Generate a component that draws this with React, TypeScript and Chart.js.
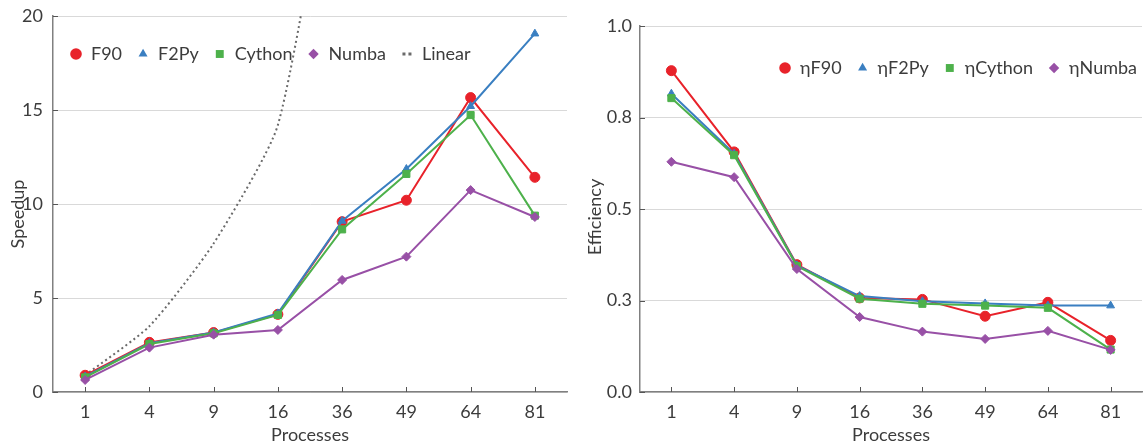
import React, { useEffect, useRef } from 'react';
import { Chart, registerables } from 'chart.js';

Chart.register(...registerables);

const FONT = 'Lato, "Open Sans", sans-serif';
const FS = 18;
const TEXT = '#3c3c3c';
const AXIS = '#808080';
const GRID = '#d9d9d9';
const RED = '#e8222a';
const BLUE = '#3a7fc1';
const GREEN = '#4db14b';
const PURPLE = '#9850a6';
const GRAY = '#6a6a6a';

// ---- data ----
const processes = ['1', '4', '9', '16', '36', '49', '64', '81'];

const speedupF90 = [0.89, 2.64, 3.16, 4.13, 9.06, 10.2, 15.66, 11.42];
const speedupF2Py = [0.82, 2.6, 3.17, 4.18, 9.1, 11.86, 15.2, 19.06];
const speedupCython = [0.78, 2.55, 3.12, 4.1, 8.65, 11.6, 14.73, 9.38];
const speedupNumba = [0.64, 2.36, 3.05, 3.3, 5.96, 7.2, 10.74, 9.31];
const speedupLinear = [0.89, 3.5, 7.9, 14.2, 32.0, 43.6, 57.0, 72.1];

const effF90 = [0.878, 0.656, 0.348, 0.257, 0.253, 0.207, 0.245, 0.141];
const effF2Py = [0.815, 0.651, 0.346, 0.262, 0.248, 0.242, 0.236, 0.236];
const effCython = [0.803, 0.647, 0.344, 0.255, 0.241, 0.236, 0.23, 0.116];
const effNumba = [0.629, 0.587, 0.336, 0.205, 0.165, 0.145, 0.167, 0.115];

const speedupTicks = [0, 5, 10, 15, 20];
const efficiencyTicks = [0, 0.25, 0.5, 0.75, 1.0];

const speedupLegend = [
  { label: 'F90', color: RED, style: 'circle', r: 5.8 },
  { label: 'F2Py', color: BLUE, style: 'triangle', r: 5.2 },
  { label: 'Cython', color: GREEN, style: 'rect', r: 5.6 },
  { label: 'Numba', color: PURPLE, style: 'rectRot', r: 5.2 },
  { label: 'Linear', color: GRAY, style: 'dots', r: 3 },
];
const efficiencyLegend = [
  { label: 'ηF90', color: RED, style: 'circle', r: 5.8 },
  { label: 'ηF2Py', color: BLUE, style: 'triangle', r: 5.2 },
  { label: 'ηCython', color: GREEN, style: 'rect', r: 5.6 },
  { label: 'ηNumba', color: PURPLE, style: 'rectRot', r: 5.2 },
];

Chart.defaults.font.family = FONT;
Chart.defaults.font.size = FS;
Chart.defaults.color = TEXT;

function drawMarker(ctx: CanvasRenderingContext2D, style: string, x: number, y: number, r: number, color: string) {
  ctx.fillStyle = color;
  ctx.beginPath();
  if (style === 'circle') {
    ctx.arc(x, y, r, 0, Math.PI * 2);
  } else if (style === 'triangle') {
    ctx.moveTo(x, y - r);
    ctx.lineTo(x + r * 0.866, y + r * 0.5);
    ctx.lineTo(x - r * 0.866, y + r * 0.5);
    ctx.closePath();
  } else if (style === 'rect') {
    const s = r * Math.SQRT1_2;
    ctx.rect(x - s, y - s, 2 * s, 2 * s);
  } else if (style === 'rectRot') {
    ctx.moveTo(x, y - r);
    ctx.lineTo(x + r, y);
    ctx.lineTo(x, y + r);
    ctx.lineTo(x - r, y);
    ctx.closePath();
  } else if (style === 'dots') {
    ctx.rect(x - 4.5, y - 1.5, 3, 3);
    ctx.rect(x + 1.5, y - 1.5, 3, 3);
  }
  ctx.fill();
}

const decorPlugin = {
  id: 'decor',
  afterDraw(chart: any, _args: any, opts: any) {
    const { ctx, chartArea } = chart;
    const xs = chart.scales.x;
    const ys = chart.scales.y;
    ctx.save();
    // inner tick marks
    ctx.strokeStyle = '#555555';
    ctx.lineWidth = 1;
    ctx.beginPath();
    xs.ticks.forEach((_: any, i: number) => {
      const x = Math.round(xs.getPixelForTick(i)) + 0.5;
      ctx.moveTo(x, chartArea.bottom);
      ctx.lineTo(x, chartArea.bottom - 5);
    });
    ys.ticks.forEach((_: any, i: number) => {
      const y = Math.round(ys.getPixelForTick(i)) + 0.5;
      ctx.moveTo(chartArea.left, y);
      ctx.lineTo(chartArea.left + 5, y);
    });
    ctx.stroke();

    // y axis title
    ctx.save();
    ctx.translate(opts.yTitleX, (chartArea.top + chartArea.bottom) / 2 + opts.yTitleShift);
    ctx.rotate(-Math.PI / 2);
    ctx.font = `${FS}px ${FONT}`;
    ctx.fillStyle = TEXT;
    ctx.textAlign = 'center';
    ctx.textBaseline = 'middle';
    ctx.fillText(opts.yTitle, 0, 0);
    ctx.restore();

    // legend
    const items = opts.items as any[];
    ctx.font = `${FS}px ${FONT}`;
    ctx.textBaseline = 'middle';
    ctx.textAlign = 'left';
    const markerToText = 15;
    const textToMarker = 21;
    const widths = items.map((it) => ctx.measureText(it.label).width);
    let total = 0;
    widths.forEach((w, i) => {
      total += markerToText + w + (i < widths.length - 1 ? textToMarker : 0);
    });
    let x = opts.align === 'left' ? chartArea.left + opts.inset : chartArea.right - opts.inset - total;
    const y = chartArea.top + opts.legendY;
    items.forEach((it, i) => {
      drawMarker(ctx, it.style, x, y, it.r, it.color);
      ctx.fillStyle = TEXT;
      ctx.fillText(it.label, x + markerToText, y);
      x += markerToText + widths[i] + textToMarker;
    });
    ctx.restore();
  },
};

function series(label: string, data: number[], color: string, style: string, r: number, order: number) {
  return {
    label,
    data,
    borderColor: color,
    backgroundColor: color,
    pointBackgroundColor: color,
    pointBorderColor: color,
    pointBorderWidth: 1,
    pointStyle: style,
    pointRadius: r,
    borderWidth: 2,
    tension: 0,
    order,
  };
}

function makeConfig(kind: 'speedup' | 'efficiency'): any {
  const isS = kind === 'speedup';
  const datasets = isS
    ? [
        {
          label: 'Linear',
          data: speedupLinear,
          borderColor: GRAY,
          borderWidth: 2,
          borderDash: [2, 3],
          pointRadius: 0,
          tension: 0.2,
          order: 10,
        },
        series('F90', speedupF90, RED, 'circle', 5, 4),
        series('F2Py', speedupF2Py, BLUE, 'triangle', 4.5, 3),
        series('Cython', speedupCython, GREEN, 'rect', 5, 2),
        series('Numba', speedupNumba, PURPLE, 'rectRot', 4.5, 1),
      ]
    : [
        series('ηF90', effF90, RED, 'circle', 5, 4),
        series('ηF2Py', effF2Py, BLUE, 'triangle', 4.5, 3),
        series('ηCython', effCython, GREEN, 'rect', 5, 2),
        series('ηNumba', effNumba, PURPLE, 'rectRot', 4.5, 1),
      ];
  const tickVals = isS ? speedupTicks : efficiencyTicks;
  return {
    type: 'line',
    data: { labels: processes, datasets },
    plugins: [decorPlugin],
    options: {
      animation: false,
      responsive: false,
      events: [],
      layout: { autoPadding: false, padding: { top: isS ? 16 : 26, right: 3, left: 0, bottom: 0 } },
      scales: {
        x: {
          offset: true,
          afterFit: (s: any) => {
            s.height = 54;
            s.paddingLeft = 0;
            s.paddingRight = 0;
          },
          grid: { display: false, drawTicks: false, offset: true },
          border: { display: true, color: AXIS, width: 1.5 },
          ticks: { padding: 9, color: TEXT, font: { size: FS }, maxRotation: 0, autoSkip: false },
          title: {
            display: true,
            text: 'Processes',
            color: TEXT,
            font: { size: FS },
            padding: { top: 0, bottom: 0 },
          },
        },
        y: {
          min: 0,
          max: isS ? 20 : 1,
          afterBuildTicks: (s: any) => {
            s.ticks = tickVals.map((v) => ({ value: v }));
          },
          afterFit: (s: any) => {
            s.width = isS ? 53 : 70;
            s.paddingTop = 0;
            s.paddingBottom = 0;
          },
          grid: { color: GRID, drawTicks: false, lineWidth: 1 },
          border: { display: true, color: AXIS, width: 1.5 },
          ticks: {
            padding: isS ? 10 : 8,
            color: TEXT,
            font: { size: FS },
            callback: (v: number) => (isS ? String(v) : v.toFixed(1)),
          },
        },
      },
      plugins: {
        legend: { display: false },
        tooltip: { enabled: false },
        decor: isS
          ? { yTitle: 'Speedup', yTitleX: 18, yTitleShift: 10, items: speedupLegend, align: 'left', inset: 23, legendY: 38 }
          : { yTitle: 'Efficiency', yTitleX: 25, yTitleShift: 8, items: efficiencyLegend, align: 'right', inset: 5, legendY: 42 },
      },
    },
  };
}

function ChartCanvas({ kind, left, width }: { kind: 'speedup' | 'efficiency'; left: number; width: number }) {
  const ref = useRef<HTMLCanvasElement>(null);
  useEffect(() => {
    const chart = new Chart(ref.current as HTMLCanvasElement, makeConfig(kind));
    return () => chart.destroy();
  }, [kind]);
  return (
    <canvas
      ref={ref}
      width={width}
      height={446}
      style={{ position: 'absolute', left, top: 0, width, height: 446, display: 'block' }}
    />
  );
}

export default function App() {
  return (
    <div style={{ position: 'absolute', left: 0, top: 0, width: 1145, height: 446, background: '#fff', overflow: 'hidden' }}>
      <ChartCanvas kind="speedup" left={0} width={570} />
      <ChartCanvas kind="efficiency" left={570} width={575} />
    </div>
  );
}
